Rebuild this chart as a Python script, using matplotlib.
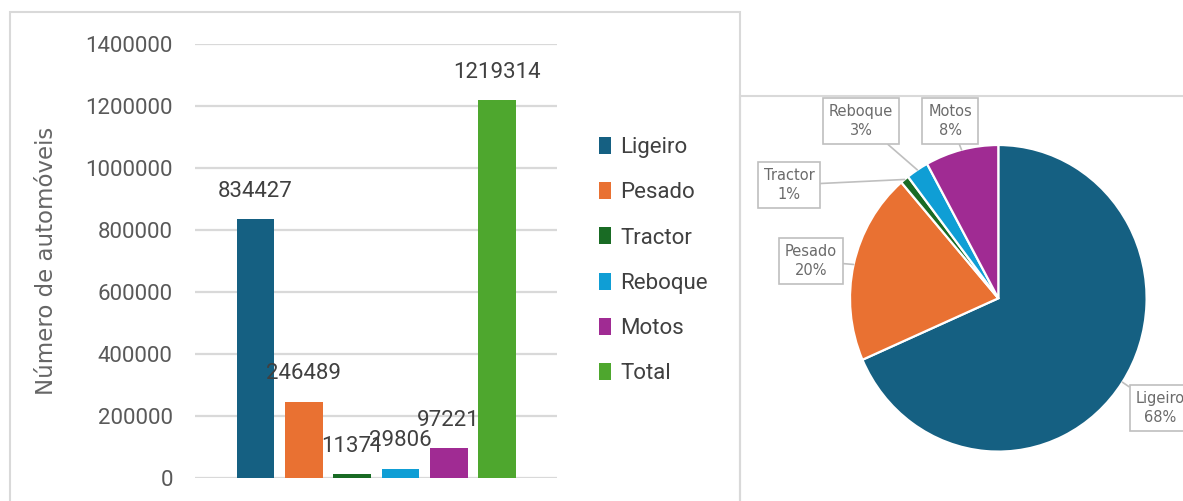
import matplotlib
matplotlib.use("Agg")
import matplotlib.pyplot as plt
import numpy as np
from matplotlib.patches import Rectangle

# ---- data ----
categories = ["Ligeiro", "Pesado", "Tractor", "Reboque", "Motos", "Total"]
values = [834427, 246489, 11371, 29806, 97221, 1219314]
colors = ["#156082", "#E97132", "#196B24", "#0F9ED5", "#A02B93", "#4EA72E"]
yticks = [0, 200000, 400000, 600000, 800000, 1000000, 1200000, 1400000]
ylabel = "Número de automóveis"

pie_labels = categories[:5]
pie_values = values[:5]
pie_colors = colors[:5]
pie_pct_labels = ["68%", "20%", "1%", "3%", "8%"]

W, H = 1183, 501
fig = plt.figure(figsize=(W / 100, H / 100), dpi=100)
fig.patch.set_facecolor("white")

def fx(x):
    return x / W

def fy(y):
    return 1 - y / H

# ---- panel borders ----
fig.patches.append(Rectangle((fx(10), fy(520)), fx(740) - fx(10), fy(12) - fy(520),
                             transform=fig.transFigure, fill=False,
                             edgecolor="#d9d9d9", linewidth=1.5, zorder=0))
fig.patches.append(Rectangle((fx(740), fy(520)), fx(1200) - fx(740), fy(96) - fy(520),
                             transform=fig.transFigure, fill=False,
                             edgecolor="#d9d9d9", linewidth=1.5, zorder=0))

# ---- bar chart ----
ax = fig.add_axes([fx(195), fy(478), fx(557) - fx(195), fy(44) - fy(478)])
x = np.arange(len(categories))
for i, (c, v, col) in enumerate(zip(categories, values, colors)):
    ax.bar(x[i], v, width=0.78, color=col, label=c, zorder=3)
    ax.annotate(f"{v}", xy=(x[i], v), xytext=(0, 20), textcoords="offset points",
                ha="center", va="center", fontsize=16, family="Roboto",
                color="#404040", zorder=4)

ax.set_xlim(-1.25, 6.24)
ax.set_ylim(0, 1400000)
ax.set_yticks(yticks)
ax.set_yticklabels([str(t) for t in yticks], family="Roboto", fontsize=16, color="#595959")
ax.set_xticks([])
ax.tick_params(axis="y", length=0, pad=16)
for s in ax.spines.values():
    s.set_visible(False)
ax.yaxis.grid(True, color="#d9d9d9", linewidth=1.6, zorder=0)
ax.set_axisbelow(True)
ax.set_ylabel(ylabel, fontsize=16.5, color="#666666", family="DejaVu Sans")
ax.yaxis.set_label_coords((58 - 195) / 362, 0.5)

leg = ax.legend(loc="upper left", bbox_to_anchor=(fx(599), fy(137)),
                bbox_transform=fig.transFigure, frameon=False,
                prop={"family": "Roboto", "size": 16}, handlelength=0.55,
                handleheight=0.8, handletextpad=0.4, labelspacing=1.08,
                borderpad=0, borderaxespad=0)
for t in leg.get_texts():
    t.set_color("#404040")

# ---- pie chart ----
cx, cy, rx, ry = 998.3, 298.3, 148.3, 153.3
pax = fig.add_axes([fx(cx - rx), fy(cy + ry), 2 * rx / W, 2 * ry / H])
wedges, _ = pax.pie(pie_values, colors=pie_colors, startangle=90, counterclock=False,
                    radius=1, wedgeprops=dict(edgecolor="white", linewidth=1.6))
pax.set_aspect("auto")
pax.set_xlim(-1, 1)
pax.set_ylim(-1, 1)
pax.axis("off")

box_centers = {"Ligeiro": (1160, 408), "Pesado": (811, 261), "Tractor": (789, 185),
               "Reboque": (861, 121), "Motos": (950, 121)}
for w, lab, pct in zip(wedges, pie_labels, pie_pct_labels):
    mid = np.deg2rad((w.theta1 + w.theta2) / 2)
    px, py = np.cos(mid), np.sin(mid)
    bxp, byp = box_centers[lab]
    pax.annotate(f"{lab}\n{pct}", xy=(px, py),
                 xytext=(bxp, H - byp), textcoords="figure pixels",
                 ha="center", va="center", fontsize=10.5, color="#6b6b6b",
                 family="DejaVu Sans", linespacing=1.35, annotation_clip=False,
                 bbox=dict(boxstyle="square,pad=0.4", facecolor="white",
                           edgecolor="#bfbfbf", linewidth=1.2),
                 arrowprops=dict(arrowstyle="-", color="#bfbfbf", linewidth=1.2,
                                 shrinkA=0, shrinkB=0))

fig.savefig("out.png", dpi=100, facecolor="white")
